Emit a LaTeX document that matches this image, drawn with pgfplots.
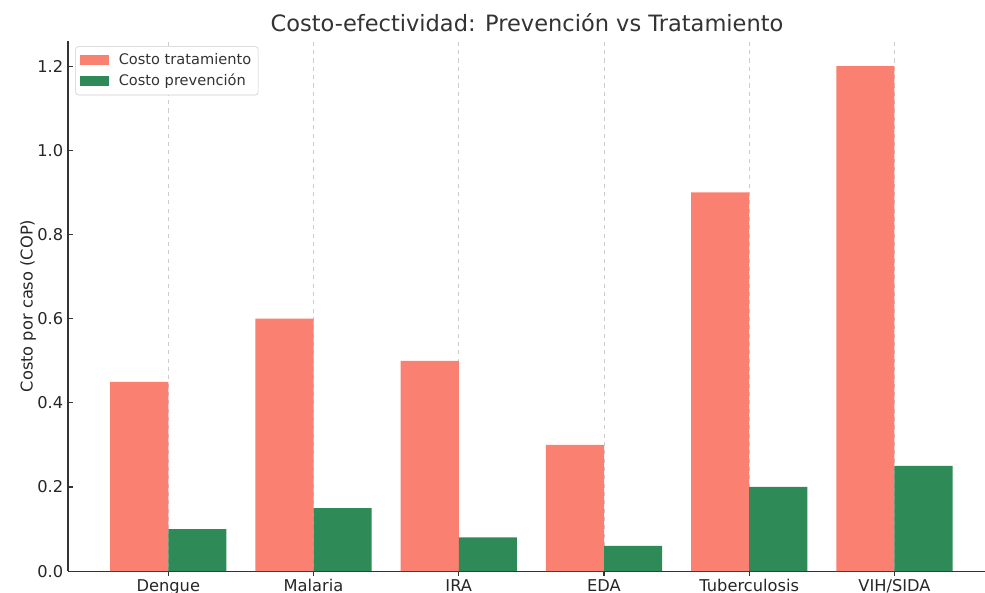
\documentclass[border=0pt]{standalone}
\usepackage{fontspec}
\setmainfont{DejaVu Sans}
\usepackage{pgfplots}
\pgfplotsset{compat=1.18}
\definecolor{tratam}{HTML}{FA8072}
\definecolor{prevenc}{HTML}{2E8B57}
\definecolor{txt}{HTML}{262626}

\begin{document}
\begin{tikzpicture}
\begin{axis}[
    scale only axis,
    width=660.7pt, height=381.6pt,
    xmin=-0.69, xmax=5.63,
    ymin=0, ymax=1260000,
    axis x line*=bottom, axis y line*=left,
    axis line style={line width=0.9pt, black!80},
    xtick={0,1,2,3,4,5},
    xticklabels={Dengue, Malaria, IRA, EDA, Tuberculosis, VIH/SIDA},
    ytick={0,200000,400000,600000,800000,1000000,1200000},
    yticklabels={0.0,0.2,0.4,0.6,0.8,1.0,1.2},
    scaled y ticks=false,
    tick align=inside,
    major tick length=3.5pt,
    tick style={line width=0.8pt, black!80},
    xmajorgrids,
    grid style={dashed, line width=0.5pt, black!20},
    ticklabel style={font=\fontsize{11.7}{14}\selectfont, text=txt},
    xticklabel style={yshift=1pt},
    ylabel={Costo por caso (COP)},
    ylabel style={font=\fontsize{11.7}{14}\selectfont, text=txt},
    ylabel shift=-6pt,
    title={Costo-efectividad: Prevención vs Tratamiento},
    title style={font=\fontsize{16.2}{19}\selectfont, text=black!80, yshift=-3pt},
    ybar,
    bar width=0.4,
    legend style={at={(0.008,0.99)}, anchor=north west, draw=black!20,
        rounded corners=2pt, font=\fontsize{10.5}{12.5}\selectfont, text=black!80,
        row sep=1.5pt, column sep=5pt, inner sep=3pt},
    legend cell align=left,
    legend image code/.code={\fill[#1, rounded corners=0pt] (0pt,-3.5pt) rectangle (21pt,3.5pt);},
]
\addplot[fill=tratam, draw=none, bar shift=-0.2] coordinates {
    (0,450000) (1,600000) (2,500000) (3,300000) (4,900000) (5,1200000)};
\addlegendentry{Costo tratamiento}
\addplot[fill=prevenc, draw=none, bar shift=0.2] coordinates {
    (0,100000) (1,150000) (2,80000) (3,60000) (4,200000) (5,250000)};
\addlegendentry{Costo prevención}
\node[anchor=south west, font=\fontsize{11.7}{14}\selectfont, text=txt, inner sep=1pt]
    at (rel axis cs:0,1) {1e6};
\end{axis}
\pgfresetboundingbox
\path[use as bounding box] ([shift={(-49pt,-15.1pt)}]current axis.south west)
    rectangle ([shift={(-0.7pt,29.5pt)}]current axis.north east);
\end{tikzpicture}
\end{document}
